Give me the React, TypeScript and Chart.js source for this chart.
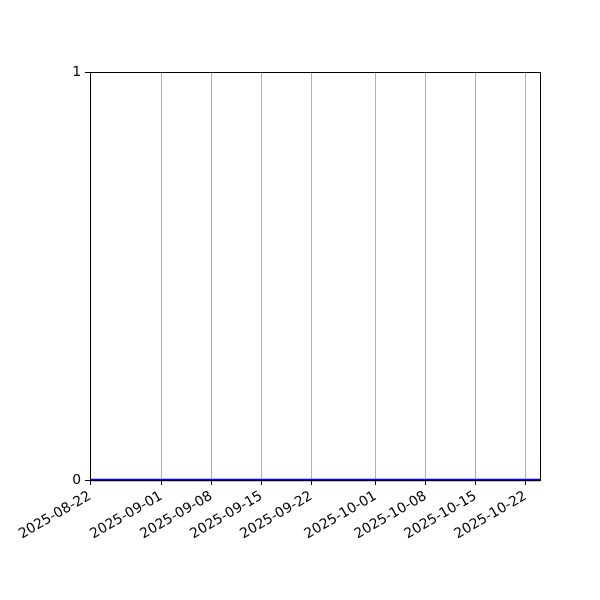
import { useEffect, useRef } from "react";
import Chart from "chart.js/auto";

// series: one flat line on zero across the whole date range
const dates = ["2025-08-22", "2025-10-24"];
const values = [0, 0];

const xTickDates = [
  "2025-08-22",
  "2025-09-01",
  "2025-09-08",
  "2025-09-15",
  "2025-09-22",
  "2025-10-01",
  "2025-10-08",
  "2025-10-15",
  "2025-10-22",
];
const yTicks = [0, 1];

const xStart = "2025-08-22";
const xEnd = "2025-10-24";

const toTime = (d: string) => Date.parse(d + "T00:00:00Z");
const fmtDate = (v: number) => new Date(v).toISOString().slice(0, 10);

const font = { family: "DejaVu Sans", size: 13.9 };

// axes frame is drawn over the line, like the spines in the reference
const framePlugin = {
  id: "frame",
  afterDatasetsDraw(chart: Chart) {
    const { ctx, chartArea } = chart;
    const l = Math.round(chartArea.left) + 0.5;
    const t = Math.round(chartArea.top) + 0.5;
    const r = Math.round(chartArea.right) + 0.5;
    const b = Math.round(chartArea.bottom) + 0.5;
    ctx.save();
    ctx.strokeStyle = "#000";
    ctx.lineWidth = 1;
    ctx.strokeRect(l, t, r - l, b - t);
    ctx.restore();
  },
};

export default function App() {
  const canvasRef = useRef<HTMLCanvasElement | null>(null);

  useEffect(() => {
    const canvas = canvasRef.current;
    if (!canvas) return;

    const chart = new Chart(canvas, {
      type: "line",
      data: {
        datasets: [
          {
            data: dates.map((d, i) => ({ x: toTime(d), y: values[i] })),
            borderColor: "#0000ff",
            borderWidth: 2.5,
            pointRadius: 0,
            tension: 0,
            clip: false,
          },
        ],
      },
      options: {
        responsive: false,
        animation: false,
        layout: { padding: { top: 72, right: 60, left: 0, bottom: 0 } },
        plugins: {
          legend: { display: false },
          tooltip: { enabled: false },
        },
        scales: {
          x: {
            type: "linear",
            min: toTime(xStart),
            max: toTime(xEnd),
            afterBuildTicks: (scale: any) => {
              scale.ticks = xTickDates.map((d) => ({ value: toTime(d) }));
            },
            afterFit: (scale: any) => {
              scale.height = 120;
            },
            border: { display: false },
            grid: {
              color: "#b0b0b0",
              lineWidth: 1,
              tickColor: "#000",
              tickLength: 5,
            },
            ticks: {
              autoSkip: false,
              minRotation: 30,
              maxRotation: 30,
              padding: 3,
              color: "#000",
              font,
              callback: (v: any) => fmtDate(Number(v)),
            },
          },
          y: {
            type: "linear",
            min: 0,
            max: 1,
            afterBuildTicks: (scale: any) => {
              scale.ticks = yTicks.map((v) => ({ value: v }));
            },
            afterFit: (scale: any) => {
              scale.width = 90;
            },
            border: { display: false },
            grid: {
              drawOnChartArea: false,
              tickColor: "#000",
              tickLength: 5,
            },
            ticks: {
              padding: 4,
              color: "#000",
              font,
              callback: (v: any) => String(v),
            },
          },
        },
      },
      plugins: [framePlugin],
    });

    return () => {
      chart.destroy();
    };
  }, []);

  return (
    <div style={{ position: "absolute", left: 0, top: 0, width: 600, height: 600, background: "#fff" }}>
      <canvas ref={canvasRef} width={600} height={600} />
    </div>
  );
}
